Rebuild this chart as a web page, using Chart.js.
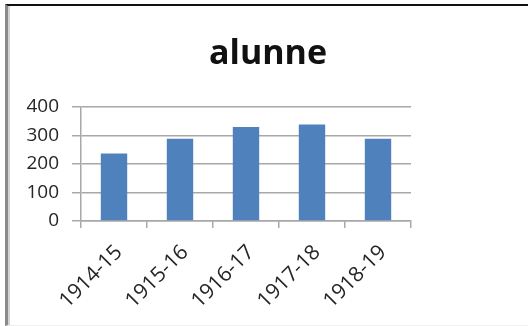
<!DOCTYPE html>
<html>
<head>
<meta charset="utf-8">
<script src="https://cdn.jsdelivr.net/npm/chart.js@4/dist/chart.umd.min.js"></script>
<style>
  html, body { margin: 0; padding: 0; background: #fff; }
  #wrap { position: relative; width: 528px; height: 326px; overflow: hidden; }
  #chart { position: absolute; left: 0; top: 0; }
  #frame {
    position: absolute; left: 5px; top: 4px; right: -20px; bottom: 0;
    border-top: 2px solid #111;
    border-left: 3px solid #8a8a8a;
    border-bottom: 1px solid #eee;
    box-shadow: inset 2px 0 0 #d4d4d4;
    pointer-events: none;
  }
</style>
</head>
<body>
<div id="wrap">
  <canvas id="chart" width="528" height="326"></canvas>
  <div id="frame"></div>
</div>
<script>
const categories = ["1914-15", "1915-16", "1916-17", "1917-18", "1918-19"];
const alunne = [236, 288, 329, 338, 288];
const yTicks = [0, 100, 200, 300, 400];

const gridColor = "#a8a8a8";
const textColor = "#262626";

const ctx = document.getElementById("chart").getContext("2d");
new Chart(ctx, {
  type: "bar",
  data: {
    labels: categories,
    datasets: [
      {
        label: "alunne",
        data: alunne,
        backgroundColor: "#4f81bd",
        borderWidth: 0,
        categoryPercentage: 1,
        barPercentage: 0.4,
      },
    ],
  },
  options: {
    responsive: false,
    animation: false,
    layout: { padding: { left: 8, right: 0, top: 0, bottom: 0 } },
    plugins: {
      legend: { display: false },
      tooltip: { enabled: false },
      title: {
        display: true,
        text: "alunne",
        color: "#111",
        font: { family: "Open Sans", size: 34, weight: "bold", lineHeight: 1.2 },
        padding: { top: 34, bottom: 32 },
      },
    },
    scales: {
      x: {
        grid: {
          drawOnChartArea: false,
          drawTicks: true,
          tickLength: 7,
          color: gridColor,
          lineWidth: 1.5,
        },
        border: { display: true, color: gridColor, width: 1.5 },
        ticks: {
          color: textColor,
          font: { family: "Open Sans", size: 21 },
          minRotation: 45,
          maxRotation: 45,
          padding: 12,
          labelOffset: 5,
        },
        afterFit: (axis) => {
          axis.height = 105;
        },
      },
      y: {
        min: 0,
        max: 400,
        afterBuildTicks: (axis) => {
          axis.ticks = yTicks.map((v) => ({ value: v }));
        },
        grid: {
          color: gridColor,
          lineWidth: 1.5,
          drawTicks: true,
          tickLength: 9,
        },
        border: { display: true, color: gridColor, width: 1.5 },
        ticks: {
          color: textColor,
          font: { family: "Open Sans", size: 19 },
          padding: 13,
        },
        afterFit: (axis) => {
          axis.width = 73;
        },
      },
      // empty right-hand space, like the unused legend area
      spacer: {
        type: "linear",
        position: "right",
        display: true,
        grid: { display: false },
        border: { display: false },
        ticks: { display: false },
        afterFit: (axis) => {
          axis.width = 117;
        },
      },
    },
  },
});
</script>
</body>
</html>
